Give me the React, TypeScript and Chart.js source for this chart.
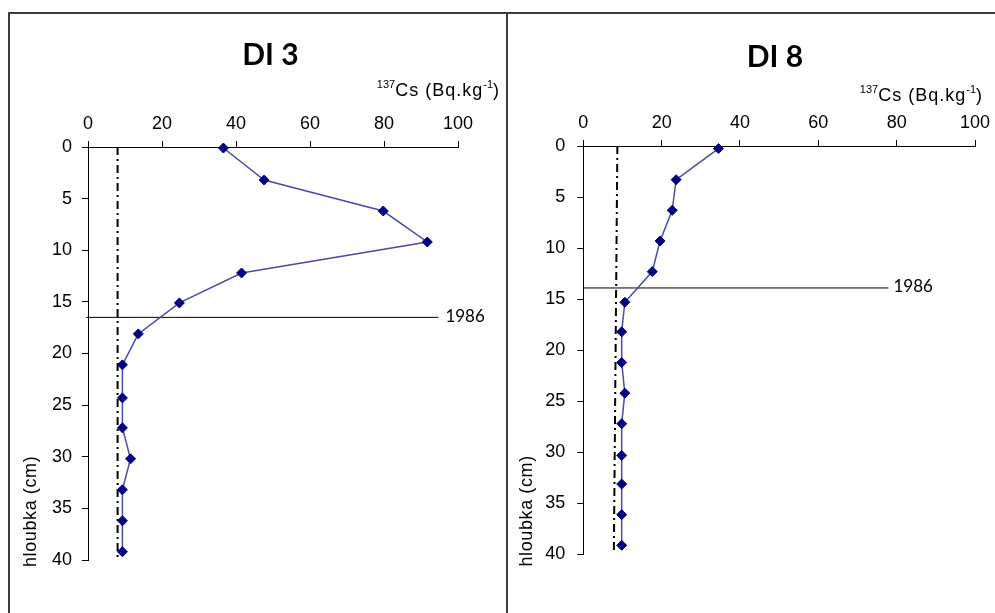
import React, { useEffect, useRef } from "react";
import { Chart, registerables } from "chart.js";

Chart.register(...registerables);

// ---- data ----
const depthDI3 = [0.1, 3.2, 6.2, 9.2, 12.2, 15.1, 18.1, 21.1, 24.3, 27.2, 30.2, 33.2, 36.2, 39.2];
const csDI3 = [36.6, 47.6, 79.8, 91.7, 41.5, 24.7, 13.6, 9.3, 9.3, 9.3, 11.5, 9.3, 9.3, 9.3];
const depthDI8 = [0.25, 3.3, 6.3, 9.3, 12.3, 15.3, 18.2, 21.2, 24.2, 27.2, 30.3, 33.1, 36.1, 39.1];
const csDI8 = [34.5, 23.7, 22.7, 19.6, 17.6, 10.6, 9.8, 9.8, 10.6, 9.8, 9.8, 9.8, 9.8, 9.8];

const baseDI3X = [8, 8];
const baseDI3Depth = [0, 40.1];
const baseDI8X = [8.7, 7.8];
const baseDI8Depth = [0, 39.8];

const l1986DI3X = [-0.5, 94.7];
const l1986DI3Depth = [16.5, 16.5];
const l1986DI8X = [0, 77.9];
const l1986DI8Depth = [13.9, 13.9];

const titles = ["DI 3", "DI 8"];
const unitSupA = "137";
const unitMain = "Cs (Bq.kg";
const unitSupB = "-1";
const unitEnd = ")";
const yTitle = "hloubka (cm)";
const label1986 = "1986";

const X_MIN = 0, X_MAX = 100, X_STEP = 20;
const Y_MIN = 0, Y_MAX = 40, Y_STEP = 5;

const W = 995, H = 613;

type Panel = {
  title: string;
  cs: number[]; depth: number[];
  baseX: number[]; baseD: number[];
  lX: number[]; lD: number[];
  padL: number; yWidth: number; padR: number; xHeight: number; padB: number;
  yLabelPad: number;
  titleX: number; titleY: number;
  unitRight: number; unitBase: number;
  yTitleX: number; yTitleBottom: number;
  labelGap: number;
};

const panels: Panel[] = [
  {
    title: titles[0], cs: csDI3, depth: depthDI3, baseX: baseDI3X, baseD: baseDI3Depth,
    lX: l1986DI3X, lD: l1986DI3Depth,
    padL: 0, yWidth: 88, padR: W - 458, xHeight: 147, padB: H - 560,
    yLabelPad: 10,
    titleX: 270.5, titleY: 55, unitRight: 500, unitBase: 96,
    yTitleX: 31, yTitleBottom: 567, labelGap: 7,
  },
  {
    title: titles[1], cs: csDI8, depth: depthDI8, baseX: baseDI8X, baseD: baseDI8Depth,
    lX: l1986DI8X, lD: l1986DI8Depth,
    padL: 506, yWidth: 77.3, padR: W - 975, xHeight: 146, padB: H - 554.5,
    yLabelPad: 12,
    titleX: 775, titleY: 57, unitRight: 983, unitBase: 101,
    yTitleX: 527.5, yTitleBottom: 566.5, labelGap: 5,
  },
];

const toPts = (xs: number[], ys: number[]) => xs.map((x, i) => ({ x, y: ys[i] }));

function buildChart(canvas: HTMLCanvasElement, p: Panel) {
  const overlay = {
    id: "overlay",
    afterDraw(chart: any) {
      const ctx = chart.ctx as CanvasRenderingContext2D;
      const xs = chart.scales.x, ys = chart.scales.y;
      ctx.save();
      ctx.fillStyle = "#000";
      // title
      ctx.font = "bold 30px Lato";
      ctx.textAlign = "center";
      ctx.textBaseline = "middle";
      ctx.fillText(p.title, p.titleX, p.titleY);

      // unit label with superscripts
      ctx.textBaseline = "alphabetic";
      ctx.textAlign = "left";
      const supFont = '11px "Liberation Sans"';
      const mainFont = '18px "Liberation Sans"';
      (ctx as any).letterSpacing = "0px";
      ctx.font = supFont;
      const wA = ctx.measureText(unitSupA).width;
      const wB = ctx.measureText(unitSupB).width;
      ctx.font = mainFont;
      (ctx as any).letterSpacing = "1px";
      const wM = ctx.measureText(unitMain).width;
      const wE = ctx.measureText(unitEnd).width;
      let x = p.unitRight - (wA + wM + wB + wE);
      const base = p.unitBase;
      (ctx as any).letterSpacing = "0px";
      ctx.font = supFont;
      ctx.fillText(unitSupA, x, base - 8.5);
      x += wA;
      ctx.font = mainFont;
      (ctx as any).letterSpacing = "1px";
      ctx.fillText(unitMain, x, base);
      x += wM;
      (ctx as any).letterSpacing = "0px";
      ctx.font = supFont;
      ctx.fillText(unitSupB, x, base - 8.5);
      x += wB;
      ctx.font = mainFont;
      ctx.fillText(unitEnd, x, base);

      // 1986 label
      const lx = xs.getPixelForValue(p.lX[p.lX.length - 1]) + p.labelGap;
      const ly = ys.getPixelForValue(p.lD[p.lD.length - 1]);
      ctx.font = "17px Lato";
      ctx.textAlign = "left";
      ctx.textBaseline = "middle";
      ctx.fillText(label1986, lx, ly - 1);

      // y title
      ctx.translate(p.yTitleX, p.yTitleBottom);
      ctx.rotate(-Math.PI / 2);
      ctx.font = '18px "Liberation Sans"';
      (ctx as any).letterSpacing = "0.6px";
      ctx.textAlign = "left";
      ctx.textBaseline = "middle";
      ctx.fillText(yTitle, 0, 0);
      ctx.restore();
    },
  };

  return new Chart(canvas, {
    type: "scatter",
    data: {
      datasets: [
        {
          data: toPts(p.cs, p.depth),
          showLine: true,
          borderColor: "#4b4ba8",
          borderWidth: 1.5,
          pointStyle: "rectRot",
          pointRadius: 5,
          pointBackgroundColor: "#000080",
          pointBorderColor: "#000080",
          pointBorderWidth: 1,
          clip: false,
        } as any,
        {
          data: toPts(p.lX, p.lD),
          showLine: true,
          borderColor: "#000",
          borderWidth: 1,
          pointRadius: 0,
          clip: false,
        } as any,
        {
          data: toPts(p.baseX, p.baseD),
          showLine: true,
          borderColor: "#000",
          borderWidth: 2,
          borderDash: [8, 4, 2, 4],
          pointRadius: 0,
          clip: false,
        } as any,
      ],
    },
    options: {
      animation: false,
      responsive: false,
      events: [],
      layout: { padding: { left: p.padL, right: p.padR, top: 0, bottom: p.padB } },
      plugins: { legend: { display: false }, tooltip: { enabled: false }, title: { display: false } },
      scales: {
        x: {
          type: "linear",
          position: "top",
          min: X_MIN, max: X_MAX,
          ticks: { stepSize: X_STEP, color: "#000", padding: 6, font: { family: '"Liberation Sans"', size: 18 } },
          grid: { drawOnChartArea: false, drawTicks: true, tickLength: 6, color: "#000" },
          border: { display: true, color: "#000", width: 1 },
          afterFit: (s: any) => { s.height = p.xHeight; s.paddingLeft = 0; s.paddingRight = 0; },
        },
        y: {
          type: "linear",
          position: "left",
          reverse: true,
          min: Y_MIN, max: Y_MAX,
          ticks: { stepSize: Y_STEP, color: "#000", padding: p.yLabelPad, font: { family: '"Liberation Sans"', size: 18 } },
          grid: { drawOnChartArea: false, drawTicks: true, tickLength: 6, color: "#000" },
          border: { display: true, color: "#000", width: 1 },
          afterFit: (s: any) => { s.width = p.yWidth; s.paddingTop = 0; s.paddingBottom = 0; },
        },
      },
    } as any,
    plugins: [overlay],
  });
}

export default function App() {
  const ref1 = useRef<HTMLCanvasElement>(null);
  const ref2 = useRef<HTMLCanvasElement>(null);
  useEffect(() => {
    const charts = [buildChart(ref1.current!, panels[0]), buildChart(ref2.current!, panels[1])];
    return () => charts.forEach((c) => c.destroy());
  }, []);
  const cstyle: React.CSSProperties = { position: "absolute", left: 0, top: 0 };
  return (
    <div style={{ position: "fixed", left: 0, top: 0, width: W, height: H, overflow: "hidden", background: "#fff" }}>
      <div style={{ position: "absolute", left: 8, top: 12, width: 2000, height: 2000, borderLeft: "2px solid #3c3c3c", borderTop: "2px solid #3c3c3c" }} />
      <div style={{ position: "absolute", left: 506, top: 12, width: 2, height: 2000, background: "#3c3c3c" }} />
      <canvas ref={ref1} width={W} height={H} style={cstyle} />
      <canvas ref={ref2} width={W} height={H} style={cstyle} />
    </div>
  );
}
